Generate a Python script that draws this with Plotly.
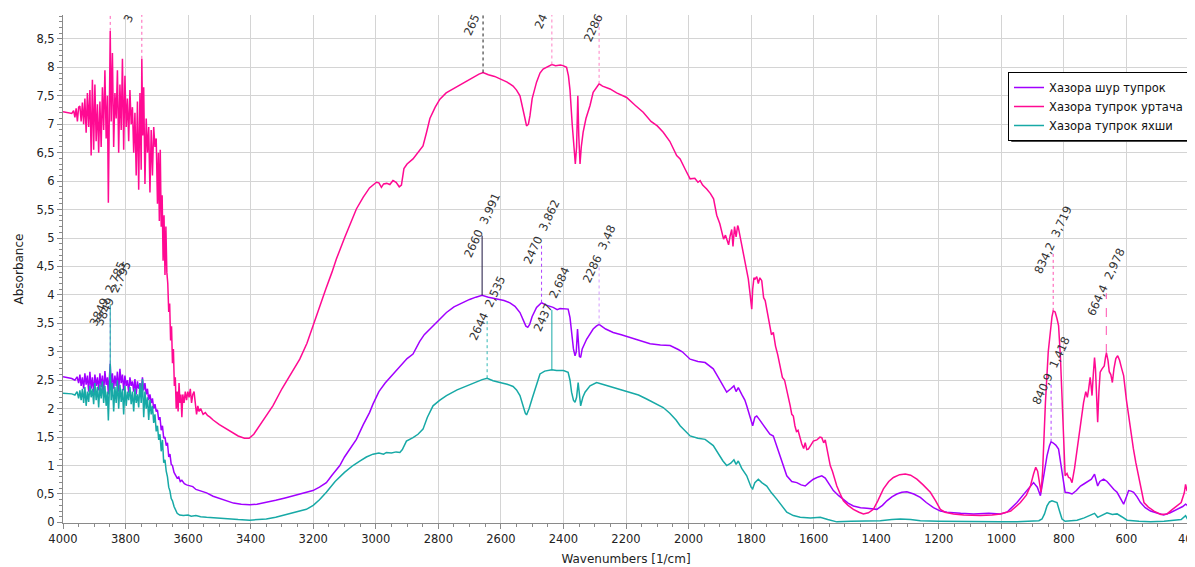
import plotly.graph_objects as go

# ---------------- data ----------------
series_names = ["Хазора шур тупрок", "Хазора тупрок уртача", "Хазора тупрок яхши"]

wn_urtacha = [4000, 3990, 3980, 3972, 3966, 3962, 3958, 3954, 3950, 3946, 3942, 3938, 3934, 3930, 3926, 3922,
              3918, 3914, 3910, 3906, 3902, 3898, 3894, 3890, 3886, 3882, 3878, 3874, 3870, 3866, 3862, 3858,
              3855, 3852, 3849, 3846, 3842, 3838, 3834, 3830, 3826, 3822, 3818, 3814, 3810, 3806, 3802, 3798,
              3794, 3790, 3786, 3782, 3778, 3774, 3770, 3766, 3762, 3758, 3754, 3750, 3748, 3745, 3742, 3738,
              3734, 3730, 3726, 3722, 3718, 3714, 3710, 3706, 3702, 3698, 3695, 3692, 3689, 3686, 3683, 3680,
              3677, 3674, 3671, 3668, 3665, 3662, 3659, 3656, 3653, 3650, 3647, 3644, 3641, 3638, 3635, 3632,
              3629, 3626, 3623, 3620, 3617, 3613, 3609, 3605, 3601, 3597, 3593, 3589, 3585, 3581, 3577, 3573,
              3569, 3565, 3560, 3552, 3545, 3538, 3530, 3520, 3500, 3480, 3460, 3440, 3420, 3405, 3390, 3370,
              3350, 3329, 3300, 3270, 3243, 3220, 3201, 3180, 3160, 3140, 3126, 3100, 3080, 3062, 3040, 3020,
              2998, 2990, 2982, 2975, 2965, 2955, 2945, 2935, 2925, 2918, 2910, 2900, 2881, 2865, 2849, 2838,
              2827, 2810, 2795, 2775, 2753, 2730, 2710, 2699, 2680, 2670, 2657, 2640, 2620, 2603, 2580, 2561,
              2550, 2539, 2530, 2523, 2518, 2512, 2507, 2500, 2486, 2475, 2465, 2450, 2437, 2425, 2410, 2401,
              2390, 2384, 2379, 2372, 2366, 2362, 2358, 2354, 2351, 2347, 2343, 2337, 2328, 2315, 2305, 2295,
              2286, 2275, 2251, 2230, 2198, 2170, 2145, 2120, 2100, 2081, 2060, 2038, 2027, 2010, 1995, 1980,
              1970, 1963, 1955, 1942, 1930, 1920, 1910, 1900, 1893, 1888, 1882, 1876, 1872, 1867, 1862, 1858,
              1853, 1848, 1843, 1841, 1836, 1830, 1825, 1818, 1812, 1809, 1804, 1800, 1798, 1795, 1791, 1787,
              1782, 1777, 1772, 1766, 1760, 1755, 1750, 1745, 1740, 1735, 1729, 1722, 1715, 1707, 1700, 1693,
              1686, 1680, 1675, 1670, 1665, 1660, 1655, 1650, 1643, 1638, 1632, 1627, 1622, 1617, 1610, 1601,
              1590, 1580, 1574, 1568, 1563, 1558, 1552, 1547, 1540, 1533, 1526, 1515, 1505, 1490, 1473, 1455,
              1441, 1425, 1409, 1395, 1377, 1360, 1345, 1325, 1307, 1290, 1270, 1250, 1227, 1210, 1195, 1180,
              1153, 1120, 1067, 1030, 1003, 970, 939, 920, 907, 897, 890, 884, 878, 873, 868, 863,
              859, 850, 843, 838, 834, 828, 822, 817, 811, 806, 800, 796, 790, 785, 780, 774,
              766, 758, 748, 737, 730, 725, 721, 716, 713, 710, 706, 702, 699, 695, 692, 688,
              684, 678, 671, 667, 664, 659, 655, 650, 645, 640, 634, 628, 622, 615, 609, 600,
              593, 587, 578, 570, 566, 555, 544, 530, 512, 490, 470, 455, 438, 425, 415, 411,
              406, 402, 400]
abs_urtacha = [7.22, 7.21, 7.20, 7.19, 7.24, 7.12, 7.28, 7.05, 7.30, 7.32, 7.05, 7.38, 7.00, 7.45, 6.85, 7.55,
               6.95, 7.60, 6.45, 7.78, 6.55, 7.70, 6.70, 7.35, 6.50, 7.40, 6.60, 7.65, 6.90, 7.95, 6.75, 7.50,
               5.62, 7.80, 8.64, 7.05, 8.25, 6.60, 7.55, 7.10, 7.95, 6.50, 7.70, 6.90, 8.15, 6.55, 7.85, 6.95,
               7.45, 6.70, 7.60, 7.00, 7.30, 6.50, 7.20, 6.10, 7.40, 5.85, 7.55, 6.20, 8.15, 6.80, 7.65, 5.95,
               7.10, 6.50, 6.95, 5.80, 6.90, 6.10, 6.95, 6.60, 6.75, 5.60, 6.50, 5.30, 6.55, 5.20, 5.75, 4.60,
               5.40, 4.35, 5.20, 4.40, 4.20, 3.70, 3.85, 3.20, 3.45, 2.80, 3.05, 2.40, 2.55, 2.00, 2.30, 1.95,
               2.45, 2.10, 2.25, 1.85, 2.25, 2.10, 2.30, 2.15, 2.30, 2.20, 2.35, 2.10, 2.25, 2.30, 2.05, 1.90,
               2.05, 1.95, 2.00, 1.90, 1.93, 1.88, 1.85, 1.80, 1.72, 1.65, 1.58, 1.52, 1.48, 1.48, 1.55, 1.72,
               1.88, 2.05, 2.35, 2.62, 2.87, 3.15, 3.46, 3.80, 4.10, 4.40, 4.63, 5.00, 5.28, 5.51, 5.72, 5.88,
               5.98, 5.97, 5.89, 5.95, 5.96, 5.94, 6.01, 5.98, 5.90, 5.93, 6.22, 6.30, 6.39, 6.50, 6.62, 6.85,
               7.10, 7.30, 7.44, 7.55, 7.62, 7.70, 7.76, 7.80, 7.85, 7.88, 7.91, 7.87, 7.84, 7.80, 7.74, 7.67,
               7.60, 7.50, 7.30, 7.10, 6.97, 7.00, 7.15, 7.45, 7.74, 7.90, 7.97, 8.02, 8.05, 8.03, 8.04, 8.03,
               8.00, 7.85, 7.60, 7.00, 6.50, 6.30, 6.60, 7.50, 6.80, 6.30, 6.60, 6.86, 7.10, 7.33, 7.56, 7.65,
               7.71, 7.67, 7.62, 7.55, 7.47, 7.33, 7.21, 7.05, 6.97, 6.86, 6.70, 6.45, 6.39, 6.20, 6.04, 6.05,
               5.98, 6.01, 5.93, 5.86, 5.78, 5.69, 5.40, 5.25, 5.10, 4.98, 5.05, 4.95, 4.88, 5.04, 5.15, 4.85,
               5.20, 5.02, 5.22, 5.19, 5.05, 4.85, 4.69, 4.50, 4.35, 4.28, 4.05, 3.80, 3.75, 4.10, 4.30, 4.28,
               4.32, 4.20, 4.30, 4.25, 3.95, 3.90, 3.75, 3.60, 3.50, 3.30, 3.34, 3.10, 2.95, 2.75, 2.55, 2.50,
               2.34, 2.15, 2.05, 1.90, 1.87, 1.70, 1.60, 1.62, 1.46, 1.38, 1.30, 1.40, 1.28, 1.29, 1.35, 1.43,
               1.45, 1.50, 1.49, 1.40, 1.45, 1.29, 1.15, 1.00, 0.90, 0.76, 0.64, 0.50, 0.38, 0.30, 0.23, 0.18,
               0.15, 0.17, 0.23, 0.38, 0.59, 0.72, 0.79, 0.84, 0.85, 0.83, 0.76, 0.66, 0.53, 0.38, 0.23, 0.18,
               0.15, 0.13, 0.12, 0.13, 0.15, 0.20, 0.35, 0.48, 0.64, 0.85, 0.97, 0.90, 0.70, 0.53, 0.90, 1.60,
               2.11, 3.00, 3.40, 3.62, 3.72, 3.70, 3.58, 3.46, 2.90, 2.23, 1.40, 0.82, 0.86, 0.79, 0.78, 0.70,
               0.95, 1.29, 1.70, 2.11, 2.30, 2.20, 2.34, 2.55, 2.40, 2.23, 2.60, 2.90, 2.70, 2.20, 1.76, 2.30,
               2.64, 2.70, 2.75, 2.90, 2.98, 2.85, 2.65, 2.60, 2.46, 2.70, 2.88, 2.93, 2.85, 2.70, 2.58, 2.15,
               1.85, 1.64, 1.30, 1.05, 0.94, 0.62, 0.35, 0.27, 0.20, 0.14, 0.15, 0.22, 0.29, 0.35, 0.52, 0.67,
               0.55, 0.60, 0.53]

wn_shur = [4000, 3985, 3972, 3962, 3955, 3950, 3946, 3942, 3938, 3934, 3930, 3926, 3922, 3918, 3914, 3910,
           3906, 3902, 3898, 3894, 3890, 3886, 3882, 3878, 3874, 3870, 3866, 3862, 3858, 3855, 3852, 3849,
           3846, 3842, 3838, 3834, 3830, 3826, 3822, 3818, 3814, 3810, 3806, 3802, 3798, 3794, 3790, 3786,
           3782, 3778, 3774, 3770, 3766, 3762, 3758, 3754, 3750, 3746, 3742, 3738, 3734, 3730, 3726, 3722,
           3718, 3714, 3710, 3706, 3702, 3698, 3694, 3690, 3686, 3682, 3678, 3674, 3670, 3666, 3662, 3658,
           3654, 3650, 3645, 3640, 3635, 3630, 3625, 3620, 3612, 3605, 3595, 3585, 3575, 3560, 3541, 3520,
           3500, 3477, 3455, 3430, 3403, 3380, 3350, 3320, 3290, 3260, 3230, 3201, 3180, 3158, 3140, 3115,
           3100, 3083, 3062, 3040, 3020, 3009, 2990, 2970, 2945, 2920, 2900, 2881, 2860, 2845, 2827, 2800,
           2774, 2750, 2721, 2700, 2680, 2660, 2640, 2614, 2590, 2571, 2555, 2539, 2528, 2520, 2514, 2508,
           2500, 2486, 2470, 2455, 2433, 2420, 2411, 2395, 2385, 2379, 2374, 2368, 2363, 2359, 2355, 2352,
           2349, 2345, 2340, 2326, 2305, 2295, 2286, 2265, 2241, 2215, 2187, 2160, 2123, 2090, 2059, 2033,
           2020, 1995, 1970, 1947, 1921, 1905, 1890, 1878, 1865, 1855, 1848, 1841, 1830, 1820, 1814, 1806,
           1800, 1795, 1788, 1782, 1775, 1766, 1750, 1740, 1729, 1718, 1707, 1696, 1686, 1670, 1654, 1640,
           1627, 1615, 1601, 1585, 1574, 1563, 1553, 1537, 1520, 1505, 1490, 1473, 1450, 1430, 1398, 1380,
           1366, 1350, 1334, 1318, 1302, 1280, 1259, 1240, 1217, 1195, 1174, 1130, 1089, 1040, 1003, 982,
           950, 920, 897, 885, 875, 868, 860, 854, 846, 841, 835, 826, 817, 812, 806, 800,
           796, 785, 774, 760, 747, 735, 721, 712, 702, 697, 692, 685, 673, 662, 651, 640,
           630, 620, 609, 600, 593, 585, 577, 566, 555, 540, 523, 500, 481, 460, 438, 420,
           411, 405, 400]
abs_shur = [2.56, 2.55, 2.53, 2.50, 2.56, 2.45, 2.60, 2.40, 2.55, 2.35, 2.62, 2.42, 2.58, 2.30, 2.65, 2.35,
            2.55, 2.28, 2.60, 2.40, 2.55, 2.32, 2.62, 2.38, 2.58, 2.30, 2.66, 2.42, 2.55, 2.25, 2.60, 2.795,
            2.40, 2.62, 2.35, 2.58, 2.40, 2.65, 2.30, 2.70, 2.45, 2.60, 2.32, 2.58, 2.40, 2.50, 2.28, 2.55,
            2.40, 2.48, 2.30, 2.52, 2.25, 2.48, 2.35, 2.45, 2.30, 2.55, 2.32, 2.45, 2.25, 2.35, 2.15, 2.25,
            2.10, 2.18, 2.00, 2.08, 1.95, 1.98, 1.80, 1.85, 1.62, 1.70, 1.48, 1.50, 1.35, 1.40, 1.15, 1.20,
            1.02, 1.00, 0.88, 0.82, 0.78, 0.80, 0.72, 0.74, 0.68, 0.66, 0.64, 0.63, 0.58, 0.55, 0.52, 0.46,
            0.42, 0.38, 0.34, 0.32, 0.31, 0.32, 0.35, 0.39, 0.43, 0.47, 0.51, 0.56, 0.62, 0.70, 0.83, 1.00,
            1.15, 1.29, 1.46, 1.72, 1.93, 2.08, 2.30, 2.45, 2.60, 2.75, 2.88, 2.96, 3.18, 3.30, 3.40, 3.56,
            3.69, 3.79, 3.87, 3.92, 3.96, 3.991, 3.96, 3.93, 3.90, 3.86, 3.80, 3.69, 3.55, 3.45, 3.43, 3.48,
            3.62, 3.78, 3.862, 3.82, 3.78, 3.74, 3.76, 3.75, 3.75, 3.60, 3.34, 3.05, 2.93, 3.00, 3.40, 3.10,
            2.92, 2.90, 3.05, 3.22, 3.40, 3.45, 3.48, 3.40, 3.34, 3.30, 3.25, 3.20, 3.14, 3.12, 3.11, 3.04,
            3.00, 2.87, 2.83, 2.81, 2.70, 2.55, 2.40, 2.29, 2.35, 2.40, 2.30, 2.37, 2.25, 2.15, 2.05, 1.90,
            1.80, 1.70, 1.85, 1.87, 1.82, 1.75, 1.64, 1.55, 1.52, 1.35, 1.17, 1.00, 0.82, 0.72, 0.70, 0.66,
            0.64, 0.70, 0.76, 0.80, 0.82, 0.78, 0.70, 0.56, 0.47, 0.41, 0.34, 0.29, 0.26, 0.25, 0.23, 0.30,
            0.38, 0.45, 0.50, 0.53, 0.54, 0.50, 0.44, 0.35, 0.26, 0.20, 0.18, 0.16, 0.15, 0.16, 0.15, 0.18,
            0.35, 0.55, 0.70, 0.62, 0.47, 0.70, 1.00, 1.17, 1.35, 1.418, 1.40, 1.36, 1.29, 1.10, 0.88, 0.65,
            0.53, 0.52, 0.50, 0.56, 0.64, 0.68, 0.73, 0.76, 0.85, 0.75, 0.64, 0.72, 0.76, 0.72, 0.64, 0.58,
            0.53, 0.42, 0.32, 0.45, 0.56, 0.55, 0.53, 0.45, 0.35, 0.26, 0.20, 0.16, 0.13, 0.17, 0.23, 0.28,
            0.32, 0.30, 0.18]

wn_yaxshi = [4000, 3985, 3972, 3962, 3955, 3950, 3946, 3942, 3938, 3934, 3930, 3926, 3922, 3918, 3914, 3910,
             3906, 3902, 3898, 3894, 3890, 3886, 3882, 3878, 3874, 3870, 3866, 3862, 3858, 3855, 3852, 3849,
             3846, 3842, 3838, 3834, 3830, 3826, 3822, 3818, 3814, 3810, 3806, 3802, 3798, 3794, 3790, 3786,
             3782, 3778, 3774, 3770, 3766, 3762, 3758, 3754, 3750, 3746, 3742, 3738, 3734, 3730, 3726, 3722,
             3718, 3714, 3710, 3706, 3702, 3698, 3694, 3690, 3686, 3682, 3678, 3674, 3670, 3666, 3662, 3658,
             3654, 3650, 3645, 3640, 3635, 3627, 3615, 3600, 3590, 3575, 3560, 3541, 3520, 3500, 3467, 3440,
             3403, 3380, 3350, 3320, 3290, 3260, 3222, 3200, 3180, 3158, 3130, 3100, 3073, 3050, 3030, 3009,
             2990, 2975, 2966, 2950, 2935, 2923, 2915, 2902, 2890, 2881, 2865, 2849, 2835, 2817, 2795, 2774,
             2740, 2710, 2680, 2660, 2644, 2625, 2603, 2580, 2561, 2550, 2539, 2530, 2522, 2518, 2510, 2500,
             2490, 2475, 2460, 2443, 2437, 2422, 2400, 2385, 2379, 2374, 2368, 2363, 2358, 2353, 2350, 2347,
             2345, 2338, 2331, 2315, 2294, 2270, 2241, 2215, 2187, 2160, 2134, 2110, 2081, 2060, 2040, 2027,
             2010, 1995, 1970, 1947, 1921, 1905, 1890, 1878, 1865, 1855, 1848, 1841, 1830, 1814, 1806, 1800,
             1795, 1788, 1777, 1766, 1750, 1735, 1718, 1700, 1686, 1665, 1643, 1610, 1579, 1555, 1526, 1480,
             1440, 1387, 1350, 1323, 1290, 1259, 1200, 1100, 1003, 950, 897, 880, 870, 862, 854, 846,
             838, 830, 822, 814, 806, 796, 780, 758, 735, 715, 702, 692, 680, 662, 645, 630,
             615, 598, 560, 523, 480, 449, 425, 411, 405, 400]
abs_yaxshi = [2.27, 2.27, 2.26, 2.24, 2.30, 2.18, 2.32, 2.15, 2.35, 2.10, 2.38, 2.05, 2.30, 2.12, 2.40, 2.20,
              2.35, 2.08, 2.45, 2.15, 2.38, 2.02, 2.42, 2.18, 2.48, 2.10, 2.40, 2.05, 2.30, 1.79, 2.35, 2.785,
              2.15, 2.45, 1.95, 2.38, 2.10, 2.50, 2.00, 2.42, 2.12, 2.35, 1.90, 2.40, 2.05, 2.30, 2.15, 2.38,
              2.08, 2.30, 1.95, 2.35, 2.10, 2.25, 2.02, 2.45, 2.10, 2.52, 1.85, 2.30, 2.00, 2.20, 1.80, 2.15,
              1.90, 2.05, 1.75, 1.90, 1.60, 1.70, 1.45, 1.55, 1.25, 1.45, 1.05, 1.10, 0.90, 0.80, 0.62, 0.55,
              0.42, 0.38, 0.28, 0.20, 0.16, 0.13, 0.12, 0.13, 0.11, 0.12, 0.10, 0.09, 0.08, 0.07, 0.06, 0.05,
              0.04, 0.05, 0.06, 0.09, 0.13, 0.17, 0.23, 0.30, 0.40, 0.53, 0.72, 0.88, 1.00, 1.08, 1.15, 1.20,
              1.22, 1.20, 1.23, 1.22, 1.24, 1.23, 1.28, 1.43, 1.46, 1.49, 1.55, 1.64, 1.85, 2.05, 2.15, 2.23,
              2.33, 2.40, 2.47, 2.51, 2.535, 2.49, 2.46, 2.43, 2.39, 2.33, 2.23, 2.05, 1.92, 1.89, 2.00, 2.18,
              2.35, 2.61, 2.66, 2.68, 2.684, 2.67, 2.67, 2.64, 2.50, 2.29, 2.15, 2.11, 2.20, 2.46, 2.25, 2.08,
              2.05, 2.20, 2.29, 2.40, 2.46, 2.42, 2.37, 2.33, 2.29, 2.24, 2.17, 2.10, 2.02, 1.92, 1.80, 1.70,
              1.60, 1.52, 1.48, 1.46, 1.35, 1.20, 1.08, 1.00, 1.04, 1.10, 1.02, 1.08, 0.95, 0.82, 0.70, 0.62,
              0.59, 0.70, 0.76, 0.70, 0.64, 0.52, 0.41, 0.28, 0.18, 0.12, 0.09, 0.08, 0.09, 0.05, 0.01, 0.02,
              0.02, 0.03, 0.05, 0.06, 0.05, 0.03, 0.02, 0.01, 0.01, 0.01, 0.02, 0.03, 0.06, 0.15, 0.29, 0.36,
              0.38, 0.37, 0.35, 0.20, 0.06, 0.02, 0.03, 0.04, 0.08, 0.12, 0.16, 0.09, 0.12, 0.17, 0.14, 0.15,
              0.10, 0.04, 0.02, 0.01, 0.02, 0.03, 0.05, 0.12, 0.06, 0.10]

# labelled peaks (wavenumber, absorbance)
peaks_shur_x = [3849, 2660, 2470, 2286, 840.9]
peaks_shur_y = [2.795, 3.991, 3.862, 3.48, 1.418]
peaks_yaxshi_x = [3849, 2644, 2437]
peaks_yaxshi_y = [2.785, 2.535, 2.684]
peaks_urtacha_x = [834.2, 664.4]
peaks_urtacha_y = [3.719, 2.978]
# peaks of the top spectrum whose labels run off the top of the plot
peaks_urtacha_top_x = [3849, 3748, 2657, 2437, 2286]
peaks_urtacha_top_y = [8.64, 8.15, 7.91, 8.05, 7.71]
peaks_urtacha_top_text = ["", "3", "265", "24", "2286"]

x_ticks = [4000, 3800, 3600, 3400, 3200, 3000, 2800, 2600, 2400, 2200, 2000, 1800, 1600, 1400, 1200, 1000, 800, 600, 400]

# ---------------- styling ----------------
C_SHUR = "#a100ff"
C_URT = "#ff0a92"
C_YAX = "#17a9a6"
FONT = "DejaVu Sans"
Y_TOP = 8.92
LINE_UP = 1.05   # marker line length above peak (data units)
LABEL_UP = 1.24  # label centre above peak

# page body has an 8px default margin: compensate so the plot lands where the reference has it
FIG_W, FIG_H = 1187, 559
M_L, M_R, M_T, M_B = 55, 6, 7, 44

fig = go.Figure()
for name, xs, ys, col in [(series_names[0], wn_shur, abs_shur, C_SHUR),
                          (series_names[1], wn_urtacha, abs_urtacha, C_URT),
                          (series_names[2], wn_yaxshi, abs_yaxshi, C_YAX)]:
    fig.add_trace(go.Scatter(x=xs, y=ys, mode="lines", name=name,
                             line=dict(color=col, width=1.5)))


def fmt(v):
    return ("%g" % v).replace(".", ",")


shapes = []
annotations = []

def add_peaks(px, py, line_styles, dx_px=None):
    for i, (x, y) in enumerate(zip(px, py)):
        lcol, dash = line_styles[i]
        shapes.append(dict(type="line", xref="x", yref="y", x0=x, x1=x, y0=y, y1=y + LINE_UP,
                           line=dict(color=lcol, width=1, dash=dash), layer="above"))
        annotations.append(dict(x=x, y=y + LABEL_UP, xref="x", yref="y", showarrow=False,
                                text=fmt(x) + "\u00a0\u00a0" + fmt(y), textangle=-65,
                                xanchor="center", yanchor="middle",
                                xshift=(dx_px[i] if dx_px else 0),
                                font=dict(family=FONT, size=11.5, color="#333333")))

add_peaks(peaks_shur_x, peaks_shur_y,
          [("#c070ff", "dot"), ("#1c1440", "solid"), ("#b040ff", "dot"), ("#d49cff", "dot"), ("#b040ff", "dot")],
          dx_px=[3, 0, 0, 0, 0])
add_peaks(peaks_yaxshi_x, peaks_yaxshi_y,
          [(C_YAX, "solid"), ("#30b8b5", "dot"), (C_YAX, "solid")],
          dx_px=[-2, 0, 0])
add_peaks(peaks_urtacha_x, peaks_urtacha_y,
          [("#ff50b0", "dot"), ("#ff50b0", "dash")])

top_line_cols = ["#ff60b8", "#ff60b8", "#202020", "#ff80c4", "#ff80c4"]
top_label_pos = [None, (3792, 8.85), (2693, 8.74), (2472, 8.82), (2306, 8.70)]
for i, (x, y) in enumerate(zip(peaks_urtacha_top_x, peaks_urtacha_top_y)):
    shapes.append(dict(type="line", xref="x", yref="y", x0=x, x1=x, y0=y, y1=Y_TOP,
                       line=dict(color=top_line_cols[i], width=1, dash="dot"), layer="above"))
    if peaks_urtacha_top_text[i]:
        tx, ty = top_label_pos[i]
        annotations.append(dict(x=tx, y=ty, xref="x", yref="y", showarrow=False,
                                text=peaks_urtacha_top_text[i], textangle=-65,
                                xanchor="center", yanchor="middle",
                                font=dict(family=FONT, size=11.5, color="#333333")))

# legend drop shadow (legend box sits on top of it, only the offset strip shows)
plot_w = FIG_W - M_L - M_R
plot_h = FIG_H - M_T - M_B
LEG_L, LEG_R, LEG_T, LEG_B = 0.8395, 1.0, 0.8878, 0.754
shapes.append(dict(type="rect", xref="paper", yref="paper",
                   x0=LEG_L + 3 / plot_w, x1=LEG_R + 2 / plot_w,
                   y0=LEG_B - 2 / plot_h, y1=LEG_T - 3 / plot_h,
                   fillcolor="#4a4a4a", line=dict(width=0), layer="above"))

fig.update_layout(
    width=FIG_W, height=FIG_H,
    margin=dict(l=M_L, r=M_R, t=M_T, b=M_B, autoexpand=False),
    paper_bgcolor="white", plot_bgcolor="white",
    separators=",.",
    font=dict(family=FONT, size=12, color="#222222"),
    showlegend=True,
    legend=dict(x=LEG_R, y=LEG_T, xanchor="right", yanchor="top",
                bgcolor="white", bordercolor="#000000", borderwidth=1,
                font=dict(family=FONT, size=11.5, color="#111111"),
                tracegroupgap=0, itemwidth=30),
    shapes=shapes,
    annotations=annotations,
)
fig.update_xaxes(range=[4000, 400], tickvals=x_ticks, showgrid=True, gridcolor="#d4d4d4", gridwidth=1,
                 showline=True, linecolor="#8a8a8a", linewidth=1, ticks="outside", ticklen=5,
                 tickcolor="#8a8a8a", tickfont=dict(family=FONT, size=11.5, color="#222222"),
                 ticklabeloverflow="allow",
                 minor=dict(dtick=50, ticks="outside", ticklen=3, tickcolor="#8a8a8a", showgrid=False),
                 zeroline=False, automargin=False,
                 title=dict(text="Wavenumbers [1/cm]", standoff=9, font=dict(family=FONT, size=12)))
fig.update_yaxes(range=[-0.01, Y_TOP], dtick=0.5, tick0=0, showgrid=True, gridcolor="#d4d4d4", gridwidth=1,
                 showline=True, linecolor="#8a8a8a", linewidth=1, ticks="outside", ticklen=5,
                 tickcolor="#8a8a8a", tickfont=dict(family=FONT, size=11.5, color="#222222"),
                 minor=dict(dtick=0.1, ticks="outside", ticklen=3, tickcolor="#8a8a8a", showgrid=False),
                 zeroline=False, automargin=False,
                 title=dict(text="Absorbance", standoff=10, font=dict(family=FONT, size=12)))

fig.write_html("out.html")
